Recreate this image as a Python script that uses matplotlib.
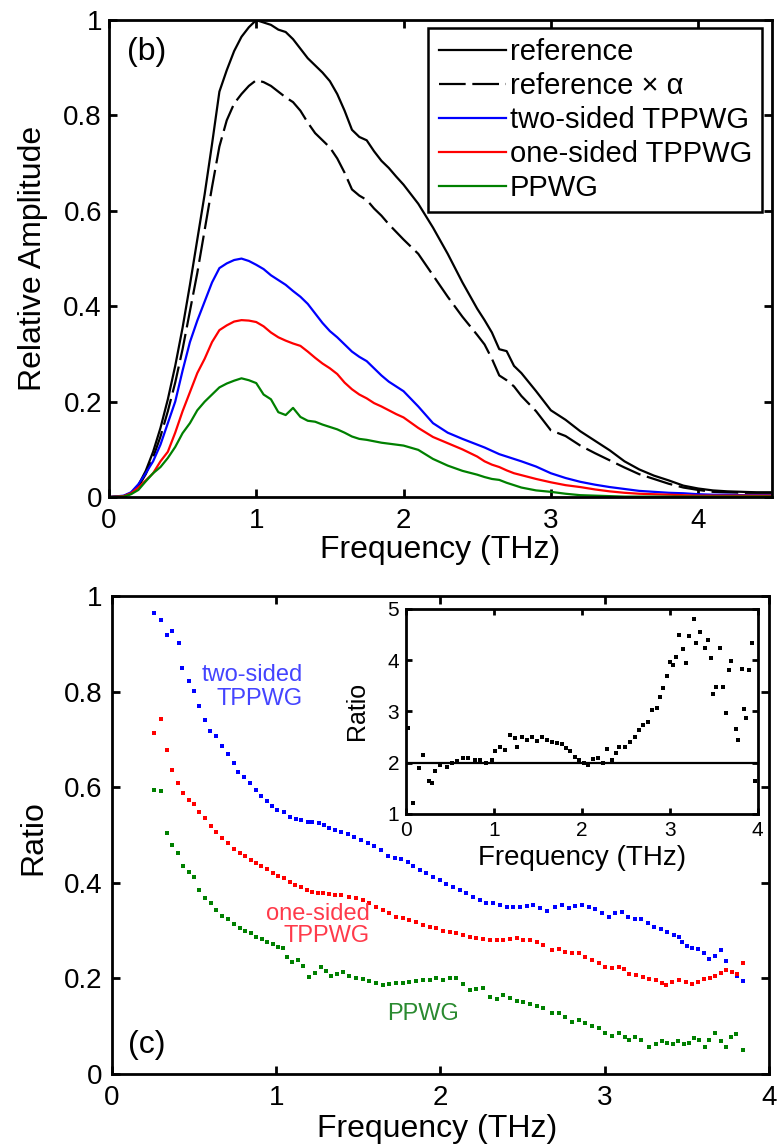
import matplotlib
matplotlib.use("Agg")
import matplotlib.pyplot as plt

plt.rcParams['font.family'] = ['Liberation Sans', 'DejaVu Sans']

# ---- panel (b): spectra ----
freq = [0, 0.1, 0.15, 0.2, 0.25, 0.3, 0.35, 0.4, 0.45, 0.5, 0.55, 0.6, 0.65, 0.7, 0.75,
        0.8, 0.85, 0.9, 0.95, 1.0, 1.05, 1.1, 1.15, 1.2, 1.25, 1.3, 1.35, 1.4, 1.45, 1.5,
        1.55, 1.6, 1.65, 1.7, 1.75, 1.8, 1.85, 1.9, 1.95, 2.0, 2.1, 2.2, 2.3, 2.4, 2.5,
        2.55, 2.6, 2.65, 2.7, 2.75, 2.8, 2.9, 3.0, 3.1, 3.2, 3.3, 3.4, 3.5, 3.6, 3.7,
        3.8, 3.9, 4.0, 4.1, 4.2, 4.3, 4.4, 4.5]
amp_ref = [0, 0.002, 0.008, 0.025, 0.055, 0.095, 0.145, 0.205, 0.275, 0.355, 0.445, 0.54,
           0.635, 0.74, 0.85, 0.895, 0.935, 0.965, 0.985, 1.0, 0.995, 0.99, 0.98, 0.975,
           0.96, 0.94, 0.92, 0.905, 0.89, 0.872, 0.845, 0.81, 0.77, 0.755, 0.748, 0.725,
           0.705, 0.69, 0.672, 0.655, 0.615, 0.565, 0.51, 0.45, 0.395, 0.371, 0.345, 0.31,
           0.306, 0.275, 0.26, 0.222, 0.182, 0.162, 0.138, 0.118, 0.098, 0.075, 0.058,
           0.045, 0.035, 0.024, 0.018, 0.014, 0.012, 0.011, 0.010, 0.010]
amp_ref_alpha = [0, 0.002, 0.007, 0.022, 0.048, 0.083, 0.127, 0.18, 0.24, 0.31, 0.39, 0.47,
                 0.56, 0.65, 0.735, 0.79, 0.825, 0.845, 0.862, 0.874, 0.87, 0.862, 0.85,
                 0.838, 0.828, 0.81, 0.785, 0.763, 0.748, 0.733, 0.71, 0.68, 0.645, 0.632,
                 0.623, 0.605, 0.59, 0.572, 0.556, 0.54, 0.51, 0.465, 0.42, 0.378, 0.34,
                 0.32, 0.29, 0.255, 0.245, 0.232, 0.212, 0.18, 0.14, 0.128, 0.108, 0.092,
                 0.077, 0.062, 0.048, 0.038, 0.028, 0.02, 0.015, 0.011, 0.01, 0.009, 0.009,
                 0.009]
amp_two = [0, 0.003, 0.01, 0.027, 0.05, 0.075, 0.11, 0.155, 0.2, 0.265, 0.325, 0.37, 0.41,
           0.45, 0.48, 0.49, 0.497, 0.5, 0.495, 0.487, 0.478, 0.465, 0.455, 0.445, 0.432,
           0.42, 0.405, 0.385, 0.365, 0.348, 0.335, 0.32, 0.305, 0.294, 0.285, 0.27, 0.255,
           0.242, 0.232, 0.222, 0.19, 0.155, 0.135, 0.122, 0.11, 0.104, 0.097, 0.09, 0.085,
           0.08, 0.075, 0.064, 0.05, 0.04, 0.032, 0.026, 0.021, 0.017, 0.013, 0.011, 0.009,
           0.008, 0.006, 0.005, 0.005, 0.004, 0.004, 0.004]
amp_one = [0, 0.002, 0.008, 0.02, 0.035, 0.05, 0.075, 0.095, 0.135, 0.18, 0.22, 0.26, 0.29,
           0.325, 0.35, 0.36, 0.368, 0.371, 0.37, 0.367, 0.358, 0.345, 0.335, 0.328, 0.322,
           0.317, 0.305, 0.292, 0.28, 0.27, 0.258, 0.24, 0.226, 0.215, 0.207, 0.197, 0.19,
           0.182, 0.174, 0.167, 0.145, 0.126, 0.113, 0.1, 0.085, 0.075, 0.068, 0.063, 0.056,
           0.05, 0.046, 0.038, 0.031, 0.025, 0.021, 0.016, 0.012, 0.009, 0.007, 0.006,
           0.005, 0.004, 0.003, 0.003, 0.003, 0.003, 0.003, 0.003]
amp_pp = [0, 0.001, 0.006, 0.015, 0.033, 0.05, 0.063, 0.082, 0.105, 0.134, 0.155, 0.182,
          0.2, 0.215, 0.23, 0.238, 0.244, 0.249, 0.245, 0.239, 0.215, 0.205, 0.178, 0.172,
          0.187, 0.168, 0.16, 0.158, 0.152, 0.147, 0.142, 0.135, 0.127, 0.122, 0.12, 0.117,
          0.114, 0.112, 0.11, 0.108, 0.099, 0.08, 0.066, 0.055, 0.047, 0.042, 0.038, 0.036,
          0.03, 0.025, 0.02, 0.014, 0.011, 0.007, 0.004, 0.003, 0.002, 0.001, 0.001, 0.001,
          0.001, 0.001, 0.001, 0.001, 0.001, 0.001, 0.001, 0.001]

# ---- panel (c): ratios ----
freq_two = [0.257, 0.298, 0.334, 0.365, 0.406, 0.426, 0.467, 0.502, 0.532, 0.569,
            0.599, 0.636, 0.671, 0.705, 0.742, 0.769, 0.803, 0.838, 0.875, 0.905,
            0.942, 0.972, 1.007, 1.048, 1.083, 1.119, 1.154, 1.191, 1.221, 1.258,
            1.293, 1.323, 1.360, 1.394, 1.435, 1.476, 1.517, 1.558, 1.598, 1.639,
            1.680, 1.721, 1.761, 1.802, 1.833, 1.874, 1.914, 1.955, 1.996, 2.037,
            2.078, 2.118, 2.159, 2.200, 2.240, 2.281, 2.322, 2.363, 2.404, 2.445,
            2.485, 2.526, 2.567, 2.607, 2.648, 2.699, 2.740, 2.781, 2.821, 2.862,
            2.903, 2.944, 2.985, 3.026, 3.066, 3.107, 3.144, 3.185, 3.225, 3.266,
            3.301, 3.342, 3.382, 3.423, 3.454, 3.474, 3.505, 3.535, 3.572, 3.607,
            3.637, 3.674, 3.708, 3.739, 3.776, 3.806, 3.841]
ratio_two = [0.964, 0.950, 0.918, 0.927, 0.901, 0.849, 0.821, 0.802, 0.770, 0.741,
             0.718, 0.706, 0.687, 0.669, 0.650, 0.632, 0.622, 0.608, 0.593, 0.582,
             0.570, 0.561, 0.552, 0.547, 0.538, 0.534, 0.531, 0.528, 0.528, 0.524,
             0.521, 0.514, 0.510, 0.507, 0.503, 0.496, 0.490, 0.483, 0.477, 0.469,
             0.455, 0.451, 0.449, 0.444, 0.435, 0.427, 0.420, 0.413, 0.406, 0.397,
             0.391, 0.385, 0.379, 0.371, 0.364, 0.358, 0.357, 0.354, 0.350, 0.350,
             0.350, 0.352, 0.354, 0.347, 0.340, 0.349, 0.354, 0.347, 0.352, 0.354,
             0.349, 0.345, 0.336, 0.328, 0.336, 0.338, 0.329, 0.324, 0.324, 0.315,
             0.307, 0.303, 0.298, 0.291, 0.287, 0.277, 0.268, 0.263, 0.261, 0.254,
             0.240, 0.247, 0.259, 0.237, 0.214, 0.204, 0.195]

freq_one = [0.257, 0.298, 0.334, 0.365, 0.402, 0.430, 0.467, 0.502, 0.532, 0.569,
            0.604, 0.636, 0.671, 0.705, 0.742, 0.777, 0.807, 0.844, 0.879, 0.909,
            0.946, 0.981, 1.013, 1.048, 1.083, 1.115, 1.150, 1.185, 1.221, 1.252,
            1.286, 1.323, 1.358, 1.394,
            1.445, 1.486, 1.527, 1.568, 1.609, 1.649, 1.690, 1.731, 1.772, 1.812,
            1.853, 1.894, 1.935, 1.976, 2.016, 2.057, 2.098, 2.139, 2.180, 2.220,
            2.261, 2.302, 2.343, 2.383, 2.424, 2.465, 2.506, 2.546, 2.587, 2.628,
            2.679, 2.720, 2.760, 2.801, 2.842, 2.883, 2.924, 2.964, 3.005, 3.046,
            3.087, 3.117, 3.152, 3.193, 3.234, 3.274, 3.315, 3.348, 3.376, 3.413,
            3.454, 3.494, 3.535, 3.572, 3.607, 3.641, 3.674, 3.708, 3.739, 3.776,
            3.810, 3.841]
ratio_one = [0.714, 0.742, 0.678, 0.636, 0.609, 0.588, 0.573, 0.565, 0.549, 0.535,
             0.519, 0.507, 0.493, 0.483, 0.470, 0.462, 0.455, 0.448, 0.441, 0.434,
             0.428, 0.420, 0.414, 0.409, 0.402, 0.395, 0.391, 0.385, 0.381, 0.378,
             0.378, 0.377, 0.374, 0.374,
             0.370, 0.368, 0.363, 0.357, 0.350, 0.343, 0.336, 0.329, 0.326, 0.322,
             0.317, 0.312, 0.308, 0.305, 0.300, 0.296, 0.294, 0.291, 0.287, 0.284,
             0.282, 0.280, 0.280, 0.280, 0.282, 0.284, 0.280, 0.280, 0.277, 0.270,
             0.259, 0.261, 0.256, 0.253, 0.253, 0.244, 0.238, 0.233, 0.224, 0.221,
             0.224, 0.219, 0.209, 0.207, 0.202, 0.198, 0.197, 0.191, 0.186, 0.193,
             0.197, 0.193, 0.188, 0.193, 0.198, 0.200, 0.204, 0.212, 0.218, 0.214,
             0.209, 0.233]

freq_pp = [0.257, 0.298, 0.334, 0.365, 0.402, 0.430, 0.467, 0.502, 0.532, 0.569,
           0.604, 0.636, 0.671, 0.705, 0.742, 0.777, 0.809, 0.844, 0.879, 0.911,
           0.946, 0.981, 1.013, 1.044, 1.064, 1.099, 1.134, 1.166, 1.201, 1.235,
           1.272, 1.303, 1.333, 1.370, 1.405,
           1.445, 1.486, 1.527, 1.568, 1.609, 1.649, 1.690, 1.731, 1.772, 1.812,
           1.853, 1.894, 1.935, 1.976, 2.016, 2.057, 2.098, 2.139, 2.180, 2.220,
           2.261, 2.302, 2.343, 2.383, 2.424, 2.465, 2.506, 2.546, 2.587, 2.628,
           2.679, 2.720, 2.760, 2.801, 2.842, 2.883, 2.924, 2.964, 3.005, 3.046,
           3.087, 3.123, 3.152, 3.188, 3.225, 3.274, 3.311, 3.348, 3.382, 3.417,
           3.450, 3.484, 3.515, 3.545, 3.576, 3.611, 3.637, 3.674, 3.708, 3.739,
           3.770, 3.800, 3.841]
ratio_pp = [0.594, 0.591, 0.505, 0.479, 0.462, 0.435, 0.423, 0.413, 0.385, 0.368,
            0.357, 0.342, 0.331, 0.324, 0.314, 0.305, 0.300, 0.294, 0.287, 0.282,
            0.277, 0.272, 0.265, 0.263, 0.244, 0.235, 0.238, 0.226, 0.202, 0.212,
            0.224, 0.216, 0.204, 0.209, 0.214,
            0.204, 0.200, 0.198, 0.195, 0.191, 0.186, 0.188, 0.190, 0.191, 0.193,
            0.195, 0.197, 0.197, 0.200, 0.197, 0.200, 0.200, 0.188, 0.176, 0.177,
            0.179, 0.162, 0.156, 0.165, 0.158, 0.153, 0.151, 0.146, 0.142, 0.137,
            0.128, 0.127, 0.119, 0.109, 0.113, 0.107, 0.100, 0.096, 0.085, 0.079,
            0.085, 0.077, 0.070, 0.078, 0.070, 0.057, 0.063, 0.068, 0.065, 0.063,
            0.068, 0.063, 0.065, 0.075, 0.071, 0.056, 0.070, 0.085, 0.068, 0.056,
            0.077, 0.084, 0.050]

# inset: two-sided / one-sided
inset_freq = [0.027, 0.083, 0.151, 0.197, 0.265, 0.292, 0.330, 0.386, 0.462, 0.519,
              0.576, 0.652, 0.708, 0.784, 0.841, 0.909, 0.973, 1.011, 1.068, 1.125,
              1.182, 1.239, 1.258, 1.314, 1.371, 1.428, 1.485, 1.542, 1.599, 1.656,
              1.712, 1.769, 1.818, 1.864, 1.920, 1.970, 2.023, 2.072, 2.129, 2.186,
              2.235, 2.288, 2.337, 2.386, 2.424, 2.489, 2.545, 2.602, 2.652, 2.697,
              2.754, 2.792, 2.849, 2.886, 2.924, 2.970, 3.000, 3.038, 3.068, 3.106,
              3.152, 3.189, 3.220, 3.273, 3.303, 3.348, 3.398, 3.436, 3.466, 3.492,
              3.530, 3.568, 3.606, 3.644, 3.674, 3.701, 3.750, 3.777, 3.815, 3.841,
              3.871, 3.901, 3.939, 3.966]
inset_ratio = [2.67, 1.21, 1.89, 2.15, 1.65, 1.60, 1.83, 1.96, 1.92, 2.00,
               2.04, 2.09, 2.09, 2.05, 2.05, 1.99, 2.05, 2.22, 2.31, 2.25,
               2.54, 2.48, 2.31, 2.51, 2.44, 2.51, 2.43, 2.50, 2.44, 2.41,
               2.38, 2.37, 2.28, 2.22, 2.12, 2.05, 2.00, 1.96, 2.07, 2.09,
               1.99, 2.26, 2.05, 2.18, 2.30, 2.31, 2.41, 2.51, 2.64, 2.74,
               2.80, 3.03, 3.06, 3.29, 3.45, 3.69, 3.97, 3.91, 4.07, 4.49,
               4.21, 3.95, 4.47, 4.80, 4.33, 4.54, 4.23, 4.40, 4.04, 3.34,
               3.47, 4.23, 3.47, 2.96, 3.81, 3.99, 2.65, 2.44, 3.82, 3.04,
               2.87, 3.80, 4.33, 1.65]

TICK_FS = 20
LABEL_FS = 23


def style_axes(ax, fs, length=6, pad=5):
    for sp in ax.spines.values():
        sp.set_linewidth(2)
    ax.tick_params(direction='in', top=True, right=True, length=length, width=2,
                   labelsize=fs, pad=pad)


fig = plt.figure(figsize=(7.78, 11.48), dpi=100)

# ---------------- (b) ----------------
ax1 = fig.add_axes([0.140, 0.567, 0.852, 0.4155])
ax1.plot(freq, amp_ref, color='black', lw=1.6, label='reference')
ax1.plot(freq, amp_ref_alpha, color='black', lw=1.6, ls=(0, (12, 3)),
         label='reference \u00d7 \u03b1')
ax1.plot(freq, amp_two, color='blue', lw=1.6, label='two-sided TPPWG')
ax1.plot(freq, amp_one, color='red', lw=1.6, label='one-sided TPPWG')
ax1.plot(freq, amp_pp, color='green', lw=1.6, label='PPWG')
ax1.set_xlim(0, 4.5)
ax1.set_ylim(0, 1)
ax1.set_xticks([0, 1, 2, 3, 4])
ax1.set_xticklabels(['0', '1', '2', '3', '4'])
ax1.set_yticks([0, 0.2, 0.4, 0.6, 0.8, 1])
ax1.set_yticklabels(['0', '0.2', '0.4', '0.6', '0.8', '1'])
style_axes(ax1, TICK_FS)
ax1.tick_params(axis='x', pad=8)
ax1.set_xlabel('Frequency (THz)', fontsize=LABEL_FS)
ax1.set_ylabel('Relative Amplitude', fontsize=LABEL_FS)
ax1.xaxis.set_label_coords(0.5, -0.08)
ax1.yaxis.set_label_coords(-0.092, 0.5)
ax1.text(0.027, 0.933, '(b)', transform=ax1.transAxes, fontsize=LABEL_FS,
         ha='left', va='center')
leg = ax1.legend(loc='upper right', bbox_to_anchor=(0.986, 0.983), borderaxespad=0,
                 fontsize=21, fancybox=False, framealpha=1, edgecolor='black',
                 handlelength=2.3, handletextpad=0.15, labelspacing=0.2,
                 borderpad=0.35)
leg.get_frame().set_linewidth(1.8)

# ---------------- (c) ----------------
ax2 = fig.add_axes([0.144, 0.0645, 0.844, 0.4164])
ax2.plot(freq_two, ratio_two, ls='none', marker='s', ms=3, color='blue', mew=0)
ax2.plot(freq_one, ratio_one, ls='none', marker='s', ms=3, color='red', mew=0)
ax2.plot(freq_pp, ratio_pp, ls='none', marker='s', ms=3, color='green', mew=0)
ax2.set_xlim(0, 4)
ax2.set_ylim(0, 1)
ax2.set_xticks([0, 1, 2, 3, 4])
ax2.set_xticklabels(['0', '1', '2', '3', '4'])
ax2.set_yticks([0, 0.2, 0.4, 0.6, 0.8, 1])
ax2.set_yticklabels(['0', '0.2', '0.4', '0.6', '0.8', '1'])
style_axes(ax2, TICK_FS)
ax2.tick_params(axis='x', pad=8)
ax2.tick_params(axis='y', pad=7)
ax2.set_xlabel('Frequency (THz)', fontsize=LABEL_FS)
ax2.set_ylabel('Ratio', fontsize=LABEL_FS)
ax2.xaxis.set_label_coords(0.495, -0.083)
ax2.yaxis.set_label_coords(-0.097, 0.494)
ax2.text(0.024, 0.061, '(c)', transform=ax2.transAxes, fontsize=LABEL_FS,
         ha='left', va='center')
ax2.text(1.16, 0.81, 'two-sided\nTPPWG', color='#4444ff', fontsize=17,
         ha='right', va='center', multialignment='right', linespacing=1.1)
ax2.text(1.57, 0.312, 'one-sided\nTPPWG', color='#ff3a4a', fontsize=17,
         ha='right', va='center', multialignment='right', linespacing=1.0)
ax2.text(1.896, 0.126, 'PPWG', color='#2a8a30', fontsize=17, ha='center', va='center')

# ---------------- inset ----------------
ax3 = fig.add_axes([0.522, 0.291, 0.452, 0.1786])
ax3.axhline(2, color='black', lw=1.6)
ax3.plot(inset_freq, inset_ratio, ls='none', marker='s', ms=3, color='black', mew=0)
ax3.set_xlim(0, 4)
ax3.set_ylim(1, 5)
ax3.set_xticks([0, 1, 2, 3, 4])
ax3.set_yticks([1, 2, 3, 4, 5])
style_axes(ax3, 15, length=4, pad=5)
ax3.set_xlabel('Frequency (THz)', fontsize=20)
ax3.set_ylabel('Ratio', fontsize=18)
ax3.xaxis.set_label_coords(0.5, -0.15)
ax3.yaxis.set_label_coords(-0.105, 0.5)

fig.savefig('out.png', dpi=100)
